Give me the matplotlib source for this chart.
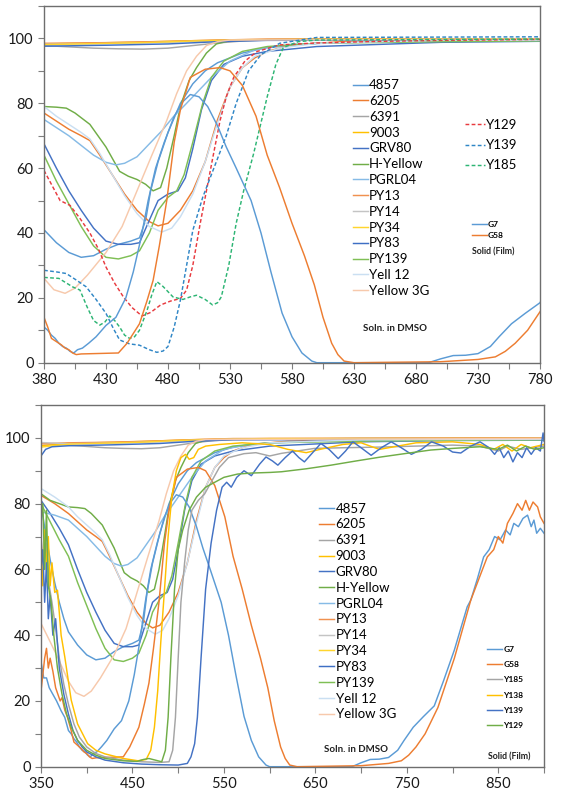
import matplotlib
matplotlib.use("Agg")
import matplotlib.pyplot as plt
import numpy as np

plt.rcParams["font.family"] = ["Lato", "DejaVu Sans"]

# --- solutions in DMSO (wavelength nm, transmittance %) ---
s_4857 = [(350, 80), (355, 71), (360, 63), (365, 56), (370, 50), (375, 45), (380, 41), (390, 37),
          (400, 34), (410, 32.5), (420, 33), (430, 35), (440, 36.5), (450, 37.5), (457, 38.5),
          (462, 44), (466, 53), (472, 62), (480, 71), (490, 80), (500, 86), (510, 90), (520, 92.5),
          (540, 95.5), (560, 97.2), (600, 98.5), (650, 99), (700, 99.3), (800, 99.5), (900, 99.6)]
s_6205 = [(350, 82.5), (365, 80), (380, 77), (390, 74.5), (400, 72), (410, 70), (417, 68.5),
          (425, 64), (435, 58), (445, 52), (455, 47), (465, 43.5), (472, 42.2), (480, 43), (490, 47),
          (500, 53), (510, 62), (520, 75), (530, 85), (540, 91), (550, 94), (560, 96), (580, 98),
          (620, 99), (700, 99.5), (900, 99.6)]
s_6391 = [(350, 98.3), (380, 97.8), (400, 97.4), (420, 97), (440, 96.8), (460, 96.7), (480, 97),
          (500, 97.8), (520, 98.6), (540, 99.2), (560, 99.5), (600, 99.6), (900, 99.7)]
s_9003 = [(350, 97.6), (380, 98.3), (420, 98.6), (460, 98.9), (500, 99.3), (540, 99.6), (600, 99.8),
          (900, 99.9)]
s_grv80 = [(350, 81), (360, 77), (370, 72.5), (380, 67.5), (390, 60), (400, 53), (410, 47),
           (420, 41.5), (430, 37.5), (440, 36.5), (450, 36.5), (457, 37), (465, 44), (472, 50),
           (480, 52), (488, 53), (494, 57), (500, 66), (507, 78), (515, 87), (525, 92), (540, 94.5),
           (560, 96), (600, 97.5), (700, 98.8), (800, 99.2), (900, 99.3)]
s_hyellow = [(350, 83), (360, 81), (370, 80), (380, 79), (390, 78.8), (398, 78.5), (405, 77),
             (417, 73.5), (430, 66.5), (441, 59), (448, 57.5), (455, 56.5), (462, 55), (468, 53),
             (474, 54), (479, 60), (485, 70), (490, 79), (497, 87), (503, 91), (511, 95.5),
             (519, 98.3), (530, 99.3), (560, 99.6), (700, 99.8), (900, 99.8)]
s_pgrl04 = [(350, 77.5), (365, 76.5), (380, 75), (390, 72.5), (400, 70), (410, 67), (420, 64),
            (430, 61.8), (438, 61), (445, 61.5), (455, 63.5), (465, 67.5), (475, 71.5), (484, 75.7),
            (495, 80), (505, 84), (515, 88), (530, 93), (550, 96.5), (580, 98.2), (650, 99),
            (800, 99.3), (900, 99.4)]
s_py13 = [(350, 98.2), (380, 98.5), (430, 98.7), (480, 99.1), (520, 99.5), (560, 99.8), (900, 100)]
s_py14 = [(350, 98.6), (380, 98.2), (430, 98.4), (480, 98.8), (520, 99.3), (560, 99.6), (900, 99.8)]
s_py34 = [(350, 97.2), (380, 98.1), (420, 98.4), (460, 98.7), (500, 99.2), (540, 99.5), (600, 99.7),
          (900, 99.8)]
s_py83 = [(350, 94.5), (355, 96.5), (362, 97.3), (380, 97.6), (430, 97.9), (480, 98.3), (520, 99),
          (560, 99.4), (900, 99.6)]
s_py139 = [(350, 80), (360, 74.5), (370, 69), (380, 64), (390, 56), (400, 49), (410, 42), (420, 36),
           (430, 32.5), (440, 32), (450, 33), (457, 34.5), (465, 40), (472, 47), (480, 51), (487, 53),
           (493, 58), (500, 68), (508, 80), (515, 88), (525, 93), (540, 96), (560, 97.5), (600, 98.5),
           (700, 99), (800, 99.3), (900, 99.4)]
s_yell12 = [(350, 84.6), (365, 82), (380, 79), (390, 76), (400, 73.5), (410, 71), (417, 69),
            (425, 64.5), (435, 58), (445, 51.5), (455, 46), (465, 42), (475, 40.3), (483, 41.5),
            (490, 45), (500, 52), (510, 62), (520, 74), (530, 85), (540, 91), (550, 94.5), (570, 97),
            (600, 98.5), (700, 99.4), (900, 99.6)]
s_yellow3g = [(350, 43.6), (360, 38), (368, 33.4), (380, 26), (388, 22.5), (397, 21.4), (405, 23),
              (415, 27), (430, 34), (443, 42), (455, 53), (467, 64), (479, 74.7), (487, 83), (495, 90),
              (503, 94.5), (511, 97.8), (520, 99), (530, 99.5), (900, 99.8)]

soln_names = ["4857", "6205", "6391", "9003", "GRV80", "H-Yellow", "PGRL04", "PY13", "PY14",
              "PY34", "PY83", "PY139", "Yell 12", "Yellow 3G"]
soln_data = [s_4857, s_6205, s_6391, s_9003, s_grv80, s_hyellow, s_pgrl04, s_py13, s_py14,
             s_py34, s_py83, s_py139, s_yell12, s_yellow3g]

# --- dashed series, top panel only ---
d_y129 = [(380, 59.3), (386, 55), (393, 50), (401, 48.5), (409, 44.5), (417, 40), (424, 35),
          (430, 29.5), (437, 24.5), (444, 20.3), (451, 17), (459, 14.4), (466, 15.5), (474, 17.8),
          (482, 19), (490, 19.8), (495, 22.4), (500, 30), (506, 43), (511, 53), (516, 63),
          (522, 74.7), (527, 82), (533, 88), (542, 93), (552, 96), (570, 98), (600, 98.6),
          (650, 99.1), (700, 99.4), (780, 99.7)]
d_y139 = [(380, 28.5), (390, 28), (398, 27.5), (406, 25.5), (414, 23.4), (422, 19.5), (430, 15.2),
          (436, 10.5), (441, 7), (449, 5.8), (457, 5.4), (465, 4), (471, 3.2), (476, 3.6), (480, 5),
          (485, 11), (490, 19.3), (495, 30), (500, 40.8), (508, 51), (518, 61), (527, 70),
          (535, 80), (545, 90), (555, 95), (570, 98.5), (600, 100.3), (780, 100.5)]
d_y185 = [(380, 26.3), (392, 26), (403, 23.4), (409, 22.4), (415, 17), (420, 13), (425, 11.6),
          (429, 12.5), (433, 14.4), (437, 13), (441, 11), (445, 8.5), (449, 7.5), (453, 8), (457, 10),
          (463, 16), (467, 21), (471, 25), (476, 23.5), (484, 20.3), (492, 19.5), (498, 20.3),
          (503, 20.8), (510, 19.5), (516, 17.8), (520, 18.5), (523, 20.3), (529, 30), (535, 43),
          (541, 53), (549, 64.4), (555, 74), (560, 82), (567, 92), (573, 97.2), (585, 99),
          (600, 99.5), (780, 99.8)]

# --- solid films ---
f_g7 = [(350, 32), (353, 27), (356, 27), (359, 24), (363, 22), (367, 20), (372, 17), (376, 15),
        (380, 11), (383, 10), (386, 8.5), (389, 7.5), (392, 6), (395, 5), (398, 4.5), (401, 3.5),
        (404, 3), (407, 4), (411, 4.5), (416, 6), (422, 8), (430, 11.5), (438, 14), (446, 20),
        (452, 28), (458, 38), (464, 50), (470, 60), (477, 68), (485, 76), (492, 80.5), (498, 82.7),
        (505, 82), (512, 79), (520, 73), (527, 66.5), (535, 60), (547, 50), (555, 40), (563, 28),
        (572, 15.3), (580, 8), (588, 3), (596, 0.5), (600, 0), (690, 0), (700, 1.2), (710, 2.2),
        (720, 2.3), (730, 2.8), (740, 5), (747, 8), (757, 12), (768, 15.2), (780, 18.5), (790, 26),
        (802, 35.5), (810, 43), (816, 48.6), (820, 50.7), (827, 57), (834, 63.8), (840, 66),
        (846, 70), (852, 69), (858, 72), (863, 70.5), (867, 74), (872, 73), (877, 75.5), (882, 76.5),
        (886, 73), (889, 75), (892, 71), (896, 72.5), (900, 71)]
f_g58 = [(350, 23), (352, 28), (354, 33), (356, 36), (358, 30), (360, 33), (363, 29), (366, 24),
         (368, 22.4), (371, 20), (373, 21), (376, 17.2), (379, 15), (383, 11), (386, 7.5), (390, 6.5),
         (394, 5.5), (397, 4.5), (400, 4), (403, 3), (406, 2.5), (410, 2.7), (420, 2.8), (430, 2.9),
         (440, 3), (447, 6), (452, 9), (457, 12), (463, 19), (468, 25.4), (473, 36), (479, 50),
         (485, 68), (490, 78), (498, 88), (510, 90.5), (522, 91), (530, 90), (540, 85.5), (551, 76),
         (560, 64), (570, 54), (580, 43), (590, 33), (598, 24), (605, 14), (612, 6), (617, 2.5),
         (622, 0.5), (630, 0), (700, 0.3), (730, 1), (744, 1.8), (752, 3.5), (760, 6), (770, 10),
         (784, 18), (802, 33), (820, 50.7), (830, 58), (838, 63.8), (845, 66), (850, 70), (855, 68),
         (860, 74), (866, 77), (871, 80), (876, 78), (880, 81), (884, 78), (888, 80.5), (893, 79),
         (896, 76), (900, 74)]
f_y185 = [(350, 70), (353, 60), (356, 68), (359, 55), (362, 50), (366, 42), (370, 33), (375, 25),
          (380, 19), (386, 13), (392, 9), (400, 6), (410, 4), (420, 3), (440, 2), (460, 1.5),
          (480, 1.3), (490, 1.5), (494, 5), (497, 15), (500, 33), (503, 50), (507, 62), (511, 72),
          (515, 78), (522, 81), (529, 83), (537, 87), (545, 91), (555, 94), (572, 95.2), (585, 95.5),
          (600, 94.5), (613, 95.3), (630, 96), (649, 96.8), (680, 97), (720, 97.2), (760, 97.5),
          (800, 97.8), (830, 97.5), (850, 96), (860, 97.5), (875, 96.5), (900, 97.5)]
f_y138 = [(350, 65), (352, 55), (354, 72), (356, 60), (358, 70), (360, 55), (362, 62), (365, 53),
          (368, 53.7), (372, 40), (376, 33.4), (383, 20.3), (390, 13), (401, 7), (410, 5), (420, 3.9),
          (440, 2.5), (456, 1.8), (465, 2.2), (470, 5), (474, 12), (477.6, 23), (481, 38),
          (485, 53.7), (489, 70), (493, 82), (498, 90), (503, 94), (508, 95), (512, 93.5), (517, 94),
          (522, 96.5), (530, 97.5), (545, 98), (570, 98.5), (600, 98), (620, 96.5), (640, 95.5),
          (655, 96.5), (680, 98), (700, 98.5), (720, 96.5), (740, 97.5), (760, 98.5), (800, 98.8),
          (830, 98), (845, 96.5), (855, 98), (865, 96), (875, 98), (885, 97), (900, 98)]
f_y139 = [(350, 60), (352, 66), (354, 50), (356, 62), (358, 45), (360, 52), (363, 40), (366, 45),
          (370, 30), (375, 22), (380, 16), (385, 11), (390, 8), (395, 6), (400, 4.5), (410, 3),
          (420, 2), (440, 1.2), (460, 0.8), (480, 0.6), (500, 0.5), (510, 1), (514, 3), (518, 7),
          (521, 15), (525, 33), (530, 54), (536, 68), (542, 78), (548, 85), (553, 86.5), (558, 85),
          (564, 88), (572, 90), (580, 88.5), (589, 92), (596, 94.2), (603, 93), (609, 91.7),
          (617, 94), (625, 96), (632, 94), (638, 92.7), (647, 95.5), (656, 98.3), (665, 96.5),
          (675, 93.7), (683, 96), (691, 98.8), (700, 97), (711, 94.7), (722, 97), (733, 98.8),
          (744, 97), (755, 95), (766, 96.5), (777, 98.8), (790, 97.5), (800, 95.7), (809, 95.4),
          (820, 97.5), (830, 98.8), (840, 97), (846, 95), (851, 97), (856, 94), (861, 96), (866, 92.7),
          (871, 95.5), (876, 94), (881, 97), (886, 95), (891, 97), (896, 96), (899, 101.5),
          (900, 99)]
f_y129 = [(350, 75), (352, 80), (354, 60), (356, 78), (358, 55), (361, 50), (364, 40), (368, 30),
          (373, 22), (378, 16), (383, 12), (390, 8), (400, 5), (410, 3.5), (420, 2.5), (440, 1.8),
          (455, 1.6), (462, 2.2), (468, 2.5), (475, 2), (482, 1.5), (486, 5), (489, 15), (492, 33),
          (496, 54), (500, 66), (505, 72), (512, 78), (520, 82), (530, 85), (540, 86.5), (550, 88),
          (565, 89), (580, 89.3), (601, 89.5), (613, 89.7), (640, 90.6), (667, 91.7), (695, 93),
          (722, 94.2), (750, 95.3), (776, 96.3), (800, 96.8), (830, 97.3), (850, 96.5), (860, 97.8),
          (870, 96), (880, 97.5), (890, 96.5), (900, 97)]

soln_colors = ["#5B9BD5", "#ED7D31", "#A5A5A5", "#FFC000", "#4472C4", "#70AD47", "#86BBE6",
               "#F0914F", "#C4C4C4", "#FFD52E", "#3E6FC4", "#7FBF55", "#CADFF2", "#F7C9AC"]

top_xticks = [380, 430, 480, 530, 580, 630, 680, 730, 780]
bot_xticks = [350, 450, 550, 650, 750, 850]


def xy(pairs):
    a = np.array(pairs, dtype=float)
    return a[:, 0], a[:, 1]


def style_axes(ax, xlim, xticks, xminor):
    ax.set_xlim(xlim)
    ax.set_ylim(0, 110)
    ax.set_xticks(xticks)
    ax.set_xticks(xminor, minor=True)
    ax.set_yticks([0, 20, 40, 60, 80, 100])
    ax.set_yticks([10, 30, 50, 70, 90, 110], minor=True)
    ax.tick_params(axis="both", which="both", direction="out", length=4, width=0.8,
                   color="#7F7F7F", labelsize=10.5, labelcolor="#1A1A1A")
    for sp in ax.spines.values():
        sp.set_color("#6E6E6E")
        sp.set_linewidth(1.0)


fig = plt.figure(figsize=(5.64, 8.01), dpi=100)
ax1 = fig.add_axes([44 / 564, 1 - 362.7 / 801, 496 / 564, 356.7 / 801])
ax2 = fig.add_axes([41 / 564, 1 - 766.7 / 801, 503 / 564, 361.7 / 801])

lw = 1.05
dash = (0, (2.6, 1.6))

# ---------------- top panel ----------------
top_sol = []
for name, data, col in zip(soln_names, soln_data, soln_colors):
    x, y = xy(data)
    ln, = ax1.plot(x, y, color=col, lw=lw, label=name)
    top_sol.append(ln)

top_dash = []
for name, data, col in [("Y129", d_y129, "#E83A3F"), ("Y139", d_y139, "#2F86C6"),
                        ("Y185", d_y185, "#2DB574")]:
    x, y = xy(data)
    ln, = ax1.plot(x, y, color=col, lw=lw, ls=dash, label=name)
    top_dash.append(ln)

top_film = []
for name, data, col in [("G7", f_g7, "#5B9BD5"), ("G58", f_g58, "#ED7D31")]:
    x, y = xy(data)
    ln, = ax1.plot(x, y, color=col, lw=lw, label=name)
    top_film.append(ln)

style_axes(ax1, (380, 780), top_xticks, np.arange(405, 780, 50))

leg = ax1.legend(handles=top_sol, loc="upper left", bbox_to_anchor=(0.622, 0.795),
                 frameon=False, fontsize=9.5, handlelength=1.15, handletextpad=0.1,
                 labelspacing=0.29, borderpad=0, borderaxespad=0)
ax1.add_artist(leg)
leg = ax1.legend(handles=top_dash, loc="upper left", bbox_to_anchor=(0.849, 0.683),
                 frameon=False, fontsize=9.5, handlelength=1.5, handletextpad=0.1,
                 labelspacing=0.62, borderpad=0, borderaxespad=0)
ax1.add_artist(leg)
ax1.legend(handles=top_film, loc="upper left", bbox_to_anchor=(0.862, 0.398),
           frameon=False, prop={"size": 6, "weight": "bold"}, handlelength=1.8,
           handletextpad=0.15, labelspacing=0.55, borderpad=0, borderaxespad=0)
ax1.text(0.863, 0.31, "Solid (Film)", transform=ax1.transAxes, fontsize=6.3,
         fontweight="bold", color="#222222", va="center")
ax1.text(0.643, 0.097, "Soln. in DMSO", transform=ax1.transAxes, fontsize=7,
         fontweight="bold", color="#222222", va="center")

# ---------------- bottom panel ----------------
bot_sol = []
for name, data, col in zip(soln_names, soln_data, soln_colors):
    x, y = xy(data)
    ln, = ax2.plot(x, y, color=col, lw=lw, label=name)
    bot_sol.append(ln)

bot_film = []
for name, data, col in [("G7", f_g7, "#5B9BD5"), ("G58", f_g58, "#ED7D31"),
                        ("Y185", f_y185, "#A5A5A5"), ("Y138", f_y138, "#FFC000"),
                        ("Y139", f_y139, "#4472C4"), ("Y129", f_y129, "#70AD47")]:
    x, y = xy(data)
    ln, = ax2.plot(x, y, color=col, lw=lw, label=name)
    bot_film.append(ln)

style_axes(ax2, (350, 900), bot_xticks, np.arange(400, 901, 100))

leg = ax2.legend(handles=bot_sol, loc="upper left", bbox_to_anchor=(0.553, 0.73),
                 frameon=False, fontsize=9.5, handlelength=1.15, handletextpad=0.1,
                 labelspacing=0.29, borderpad=0, borderaxespad=0)
ax2.add_artist(leg)
ax2.legend(handles=bot_film, loc="upper left", bbox_to_anchor=(0.887, 0.335),
           frameon=False, prop={"size": 6, "weight": "bold"}, handlelength=1.8,
           handletextpad=0.15, labelspacing=1.0, borderpad=0, borderaxespad=0)
ax2.text(0.888, 0.027, "Solid (Film)", transform=ax2.transAxes, fontsize=6.3,
         fontweight="bold", color="#222222", va="center")
ax2.text(0.562, 0.047, "Soln. in DMSO", transform=ax2.transAxes, fontsize=7,
         fontweight="bold", color="#222222", va="center")

fig.savefig("out.png", dpi=100, facecolor="white")
